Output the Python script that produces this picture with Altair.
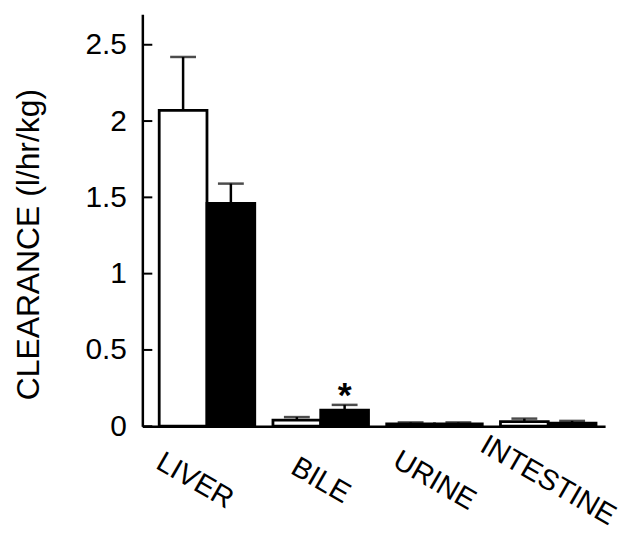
import altair as alt
import pandas as pd

categories = ["LIVER", "BILE", "URINE", "INTESTINE"]
groups = ["control", "treated"]
control_values = [2.07, 0.04, 0.015, 0.03]
control_err_top = [2.42, 0.06, 0.025, 0.05]
treated_values = [1.46, 0.105, 0.015, 0.02]
treated_err_top = [1.59, 0.14, 0.025, 0.035]
control_marks = ["", "", "", ""]
treated_marks = ["", "*", "", ""]
y_ticks = [0, 0.5, 1, 1.5, 2, 2.5]

rows = []
for i, c in enumerate(categories):
    rows.append({"category": c, "group": "control", "value": control_values[i],
                 "err": control_err_top[i], "mark": control_marks[i]})
    rows.append({"category": c, "group": "treated", "value": treated_values[i],
                 "err": treated_err_top[i], "mark": treated_marks[i]})
df = pd.DataFrame(rows)
ticks_df = pd.DataFrame({"t": y_ticks})

FONT = "Liberation Sans"
TITLE = "CLEARANCE (l/hr/kg)"
yscale = alt.Scale(domain=[0, 2.7], nice=False, zero=True)
y_axis = alt.Axis(title=TITLE, values=y_ticks, format="~g",
                  ticks=False, grid=False, labelPadding=16,
                  labelFontSize=30, labelFont=FONT, labelColor="black",
                  titleFontSize=32, titleFont=FONT, titleFontWeight="normal",
                  titleColor="black", titleX=-97, titleY=231,
                  domainColor="black", domainWidth=2.5)

x_axis = alt.Axis(title=None, labelAngle=30, labelAlign="center",
                  labelBaseline="middle", labelPadding=54, ticks=False,
                  labelFontSize=29, labelFont=FONT, labelColor="black",
                  labelOffset=alt.ExprRef(
                      expr="datum.label == 'LIVER' ? -12 : 0"),
                  domainColor="black", domainWidth=2.5)
x_enc = alt.X("category:N", sort=categories,
              scale=alt.Scale(paddingInner=0.16, paddingOuter=0.114, align=0.65),
              axis=x_axis)
xoff = alt.XOffset("group:N", sort=groups,
                   scale=alt.Scale(paddingInner=0, paddingOuter=0))

base = alt.Chart(df)

bars = base.mark_bar(stroke="black", strokeWidth=2.8).encode(
    x=x_enc,
    xOffset=xoff,
    y=alt.Y("value:Q", scale=yscale, axis=y_axis, title=TITLE),
    fill=alt.Fill("group:N", scale=alt.Scale(domain=groups, range=["white", "black"]),
                  legend=None),
)

err_rule = base.mark_rule(color="black", strokeWidth=2.5).encode(
    x=x_enc,
    xOffset=xoff,
    y=alt.Y("value:Q", scale=yscale, axis=y_axis, title=TITLE),
    y2="err:Q",
)

err_cap = base.mark_tick(color="black", size=26, thickness=2.5).encode(
    x=x_enc,
    xOffset=xoff,
    y=alt.Y("err:Q", scale=yscale, axis=y_axis, title=TITLE),
)

stars = base.mark_text(fontSize=36, fontWeight="bold", font=FONT, color="black",
                       baseline="alphabetic", dy=2).encode(
    x=x_enc,
    xOffset=xoff,
    y=alt.Y("err:Q", scale=yscale, axis=y_axis, title=TITLE),
    text="mark:N",
)

tick_marks = alt.Chart(ticks_df).mark_rule(color="black", strokeWidth=2).encode(
    y=alt.Y("t:Q", scale=yscale, axis=y_axis, title=TITLE),
    x=alt.value(0),
    x2=alt.value(10),
)

chart = alt.layer(bars, err_rule, err_cap, stars, tick_marks).properties(
    width=465,
    height=414,
    autosize=alt.AutoSizeParams(type="none"),
    padding={"left": 135, "top": 5, "right": 20, "bottom": 104},
).configure(font=FONT, view=alt.ViewConfig(stroke=None))

chart.save("out.html", embed_options={"renderer": "svg", "actions": False})
